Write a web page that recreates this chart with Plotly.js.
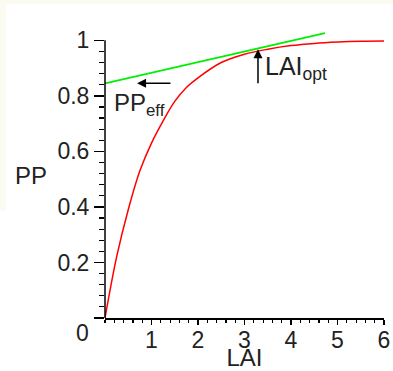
<!DOCTYPE html>
<html>
<head>
<meta charset="utf-8">
<script src="https://cdn.plot.ly/plotly-3.0.1.min.js"></script>
<style>html,body{margin:0;padding:0;background:#fff;}#chart{width:393px;height:371px;}</style>
</head>
<body>
<div id="chart"></div>
<script>
// Red curve: PP vs LAI
const lai = [0, 0.25, 0.5, 0.75, 1, 1.25, 1.5, 1.75, 2, 2.5, 3, 3.5, 4, 4.5, 5, 5.5, 6];
const pp  = [0, 0.22, 0.39, 0.53, 0.63, 0.71, 0.78, 0.83, 0.865, 0.92, 0.95, 0.968, 0.981, 0.989, 0.994, 0.997, 0.998];
// Green tangent line
const tanLai = [0, 4.73];
const tanPP  = [0.845, 1.026];
// Tick labels
const xTicks = [1, 2, 3, 4, 5, 6];
const xTickText = ["1", "2", "3", "4", "5", "6"];
const yTicks = [0, 0.2, 0.4, 0.6, 0.8, 1];
const yTickText = ["", "0.2", "0.4", "0.6", "0.8", "1"];
// Annotation anchors
const ppEffTip = [0.69, 0.845], ppEffTail = [1.44, 0.845];
const laiOptTip = [3.29, 0.968], laiOptTail = [3.29, 0.84];

const font = 'Liberation Sans, Arial, sans-serif';

const traces = [
  {x: lai, y: pp, mode: 'lines', line: {color: '#ff0000', width: 1.5, shape: 'spline'}, hoverinfo: 'skip'},
  {x: tanLai, y: tanPP, mode: 'lines', line: {color: '#00ee00', width: 1.8}, hoverinfo: 'skip'}
];

const layout = {
  width: 393, height: 371,
  margin: {l: 105, r: 9, t: 32, b: 53},
  paper_bgcolor: '#ffffff', plot_bgcolor: '#ffffff',
  showlegend: false,
  font: {family: font, size: 23, color: '#222'},
  xaxis: {
    range: [0, 6], showgrid: false, zeroline: false,
    showline: true, linecolor: '#000', linewidth: 1.5,
    tickmode: 'array', tickvals: xTicks, ticktext: xTickText,
    ticks: 'outside', ticklen: 5, tickwidth: 1.5, tickcolor: '#000',
    ticklabelstandoff: -4,
    minor: {dtick: 0.2, ticks: 'outside', ticklen: 3, tickwidth: 1.2, tickcolor: '#000'},
    tickfont: {family: font, size: 23, color: '#222'},
    title: {text: 'LAI', font: {family: font, size: 24, color: '#222'}, standoff: 6},
    fixedrange: true
  },
  yaxis: {
    range: [0, 1.03], showgrid: false, zeroline: false, showline: false,
    tickmode: 'array', tickvals: yTicks, ticktext: yTickText,
    ticks: 'outside', ticklen: 10, tickwidth: 1.5, tickcolor: '#000',
    minor: {dtick: 0.04, ticks: 'outside', ticklen: 5, tickwidth: 1.2, tickcolor: '#000'},
    tickfont: {family: font, size: 23, color: '#222'},
    fixedrange: true
  },
  shapes: [
    {type: 'line', xref: 'paper', yref: 'y', x0: 0, x1: 0, y0: 0, y1: 1, line: {color: '#000', width: 1.5}},
    {type: 'rect', xref: 'paper', yref: 'paper', x0: -0.3763, x1: -0.3548, y0: 0.374, y1: 1.112, fillcolor: '#fbfbf2', line: {width: 0}, layer: 'below'},
    {type: 'rect', xref: 'paper', yref: 'paper', x0: -0.3763, x1: 1.032, y0: 1.098, y1: 1.112, fillcolor: '#fbfbf2', line: {width: 0}, layer: 'below'}
  ],
  annotations: [
    {xref: 'paper', yref: 'paper', x: -0.265, y: 0.5, text: 'PP', showarrow: false, xanchor: 'center', yanchor: 'middle', font: {family: font, size: 24, color: '#222'}},
    {xref: 'paper', yref: 'y', x: -0.05, y: 0, text: '0', showarrow: false, xanchor: 'right', yanchor: 'top', font: {family: font, size: 23, color: '#222'}},
    {x: ppEffTip[0], y: ppEffTip[1], ax: ppEffTail[0], ay: ppEffTail[1], axref: 'x', ayref: 'y', text: '', showarrow: true, arrowhead: 2, arrowsize: 1.2, arrowwidth: 1.5, arrowcolor: '#000'},
    {x: 0.15, y: 0.77, text: 'PP<sub>eff</sub>', showarrow: false, xanchor: 'left', yanchor: 'middle', font: {family: font, size: 24, color: '#222'}},
    {x: laiOptTip[0], y: laiOptTip[1], ax: laiOptTail[0], ay: laiOptTail[1], axref: 'x', ayref: 'y', text: '', showarrow: true, arrowhead: 2, arrowsize: 1.2, arrowwidth: 1.5, arrowcolor: '#000'},
    {x: 3.4, y: 0.9, text: 'LAI<sub>opt</sub>', showarrow: false, xanchor: 'left', yanchor: 'middle', font: {family: font, size: 25, color: '#222'}}
  ]
};

Plotly.newPlot('chart', traces, layout, {staticPlot: true, displayModeBar: false});
</script>
</body>
</html>
